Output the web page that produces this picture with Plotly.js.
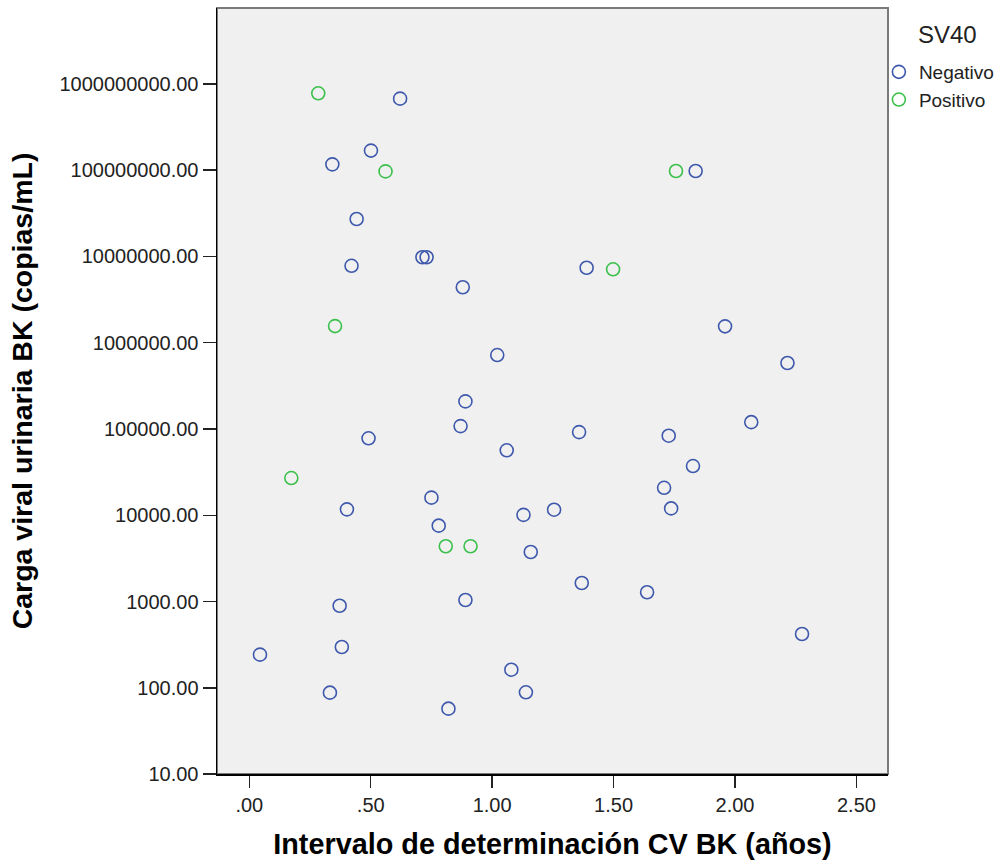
<!DOCTYPE html>
<html>
<head>
<meta charset="utf-8">
<script src="https://cdn.plot.ly/plotly-3.0.1.min.js"></script>
<style>html,body{margin:0;padding:0;background:#fff;}#chart{width:1001px;height:863px;}</style>
</head>
<body>
<div id="chart"></div>
<script>
// Negativo series
const negX = [0.621, 0.501, 0.342, 1.838, 0.442, 0.713, 0.730, 0.421, 1.389, 0.879,
              1.959, 1.021, 2.216, 0.890, 2.067, 0.870, 1.358, 1.727, 0.491, 1.060,
              1.827, 1.708, 0.750, 0.402, 1.737, 1.255, 1.129, 0.780, 1.159, 1.369,
              1.638, 0.890, 0.372, 2.276, 0.381, 0.044, 1.079, 0.332, 1.139, 0.820];
const negY = [6.76e8, 1.69e8, 1.17e8, 9.8e7, 2.72e7, 9.8e6, 9.8e6, 7.8e6, 7.4e6, 4.4e6,
              1.55e6, 7.2e5, 5.82e5, 2.09e5, 1.2e5, 1.08e5, 9.2e4, 8.36e4, 7.8e4, 5.66e4,
              3.72e4, 2.08e4, 1.6e4, 1.17e4, 1.2e4, 1.16e4, 1.01e4, 7.57e3, 3.75e3, 1.64e3,
              1.28e3, 1.04e3, 893, 420, 297, 242, 162, 87.7, 88.5, 57.2];
// Positivo series
const posX = [0.284, 0.561, 1.757, 1.498, 0.353, 0.173, 0.809, 0.911];
const posY = [7.8e8, 9.7e7, 9.8e7, 7.1e6, 1.56e6, 2.7e4, 4.37e3, 4.37e3];

const seriesNames = ["Negativo", "Positivo"];
const legendTitle = "SV40";
const xTickVals = [0, 0.5, 1, 1.5, 2, 2.5];
const xTickText = [".00", ".50", "1.00", "1.50", "2.00", "2.50"];
const yTickVals = [10, 100, 1000, 10000, 100000, 1000000, 10000000, 100000000, 1000000000];
const yTickText = ["10.00", "100.00", "1000.00", "10000.00", "100000.00", "1000000.00",
                   "10000000.00", "100000000.00", "1000000000.00"];
const xTitle = "Intervalo de determinación CV BK (años)";
const yTitle = "Carga viral urinaria BK (copias/mL)";

const FONT = "Liberation Sans, Arial, sans-serif";
const mk = (c) => ({symbol: "circle-open", size: 13, color: c, line: {width: 1.6, color: c}});

const traces = [
  {x: negX, y: negY, type: "scatter", mode: "markers", name: seriesNames[0], marker: mk("#3e58ac")},
  {x: posX, y: posY, type: "scatter", mode: "markers", name: seriesNames[1], marker: mk("#3cc04c")}
];

const layout = {
  width: 1001, height: 863,
  margin: {l: 217, r: 113, t: 8, b: 89, pad: 0, autoexpand: false},
  paper_bgcolor: "#ffffff",
  plot_bgcolor: "#f0f0f0",
  font: {family: FONT, color: "#222"},
  showlegend: true,
  legend: {xref: "container", yref: "container", x: 0.878, xanchor: "left", y: 0.9386, yanchor: "top",
           font: {size: 19, color: "#222"}, bgcolor: "rgba(0,0,0,0)", tracegroupgap: 0, itemwidth: 30},
  xaxis: {
    range: [-0.133, 2.630], showgrid: false, zeroline: false,
    tickvals: xTickVals, ticktext: xTickText, ticks: "outside", ticklen: 12, tickwidth: 1.5, tickcolor: "#222",
    showline: true, linecolor: "#000", linewidth: 1.5,
    tickfont: {size: 20, color: "#222"},
    title: {text: xTitle, font: {size: 28.8, family: FONT, color: "#000", weight: "bold"}, standoff: 19}
  },
  yaxis: {
    type: "log", range: [1, 9.881], showgrid: false, zeroline: false,
    tickvals: yTickVals, ticktext: yTickText, ticks: "outside", ticklen: 13, tickwidth: 1.5, tickcolor: "#222",
    showline: true, linecolor: "#000", linewidth: 1.5,
    tickfont: {size: 20, color: "#222"},
    title: {text: yTitle, font: {size: 28.5, family: FONT, color: "#000", weight: "bold"}, standoff: 18}
  },
  shapes: [
    {type: "rect", xref: "paper", yref: "paper", x0: 0, x1: 1, y0: 0, y1: 1,
     line: {color: "#7a7a7a", width: 2}, layer: "below"}
  ],
  annotations: [
    {text: legendTitle, xref: "paper", yref: "paper", x: 1.0415, y: 0.9648, xanchor: "left", yanchor: "middle",
     showarrow: false, font: {size: 24, color: "#222"}}
  ]
};

Plotly.newPlot("chart", traces, layout, {displayModeBar: false, staticPlot: true});
</script>
</body>
</html>
